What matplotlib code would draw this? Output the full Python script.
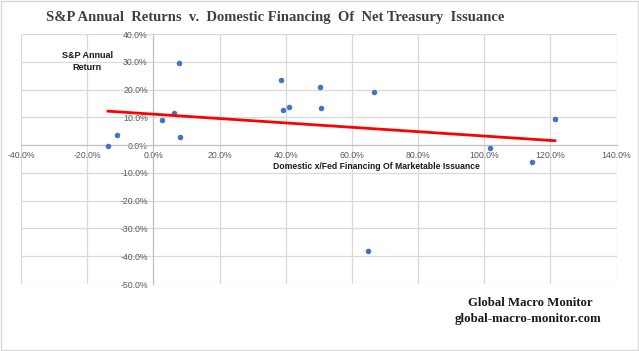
import numpy as np
import matplotlib.pyplot as plt
from matplotlib.patches import Rectangle
from matplotlib.ticker import FuncFormatter

# domestic x/fed financing share (%) and S&P annual return (%)
financing = [-13.7, -10.9, 2.5, 6.1, 7.8, 8.0, 38.5, 39.2, 41.0, 50.4, 50.7, 66.6,
             101.7, 114.5, 121.4, 64.8]
sp_return = [-0.2, 3.6, 9.0, 11.4, 29.5, 3.1, 23.4, 12.6, 13.7, 20.9, 13.4, 19.2,
             -0.9, -6.1, 9.5, -38.1]

x_ticks = np.arange(-40, 141, 20)
y_ticks = np.arange(-50, 41, 10)

x = np.array(financing)
y = np.array(sp_return)

fig = plt.figure(figsize=(6.39, 3.51), dpi=100)
ax = fig.add_axes([21 / 639, 1 - 284 / 351, (616.5 - 21) / 639, (284 - 34) / 351])

grid_c = '#d9d9d9'
ax.set_xlim(-40, 140)
ax.set_ylim(-50, 40)
ax.set_xticks(x_ticks)
ax.set_yticks(y_ticks)
ax.grid(True, color=grid_c, linewidth=0.9)
ax.set_axisbelow(True)

for s in ['top', 'right']:
    ax.spines[s].set_visible(False)
ax.spines['left'].set_position(('data', 0))
ax.spines['bottom'].set_position(('data', 0))
ax.spines['left'].set_color('#bfbfbf')
ax.spines['bottom'].set_color('#bfbfbf')

fmt = FuncFormatter(lambda v, p: f'{v:.1f}%')
ax.xaxis.set_major_formatter(fmt)
ax.yaxis.set_major_formatter(fmt)
ax.tick_params(length=0, labelsize=6.3, labelcolor='#595959', pad=4)
for t in ax.get_xticklabels() + ax.get_yticklabels():
    t.set_fontfamily('Liberation Sans')

ax.scatter(x, y, s=16, color='#4472C4', zorder=3, linewidths=0)

# linear trend line
k, b = np.polyfit(x, y, 1)
xl = np.array([x.min(), x.max()])
ax.plot(xl, k * xl + b, color='#FF0000', linewidth=2, zorder=4)

ax.text(-20, 30.1, 'S&P Annual\nReturn', ha='center', va='center', fontsize=6.5,
        fontweight='bold', family='Liberation Sans', color='#1a1a1a', linespacing=1.3)
ax.text(67.4, -7.8, 'Domestic x/Fed Financing Of Marketable Issuance', ha='center',
        va='center', fontsize=6.2, fontweight='bold', family='Liberation Sans', color='#1a1a1a')

fig.text(275 / 639, 1 - 17 / 351,
         'S&P Annual  Returns  v.  Domestic Financing  Of  Net Treasury  Issuance',
         ha='center', va='center', fontsize=10.5, fontweight='bold',
         family='Liberation Serif', color='#404040')
fig.text(530 / 639, 1 - 303 / 351, 'Global Macro Monitor', ha='center', va='center',
         fontsize=9.2, fontweight='bold', family='Liberation Serif', color='#1a1a1a')
fig.text(528 / 639, 1 - 319 / 351, 'global-macro-monitor.com', ha='center', va='center',
         fontsize=9.3, fontweight='bold', family='Liberation Serif', color='#1a1a1a')

fig.patches.append(Rectangle((0.002, 0.003), 0.996, 0.994, transform=fig.transFigure,
                             fill=False, edgecolor=grid_c, linewidth=1))

fig.savefig('out.png', dpi=100)
